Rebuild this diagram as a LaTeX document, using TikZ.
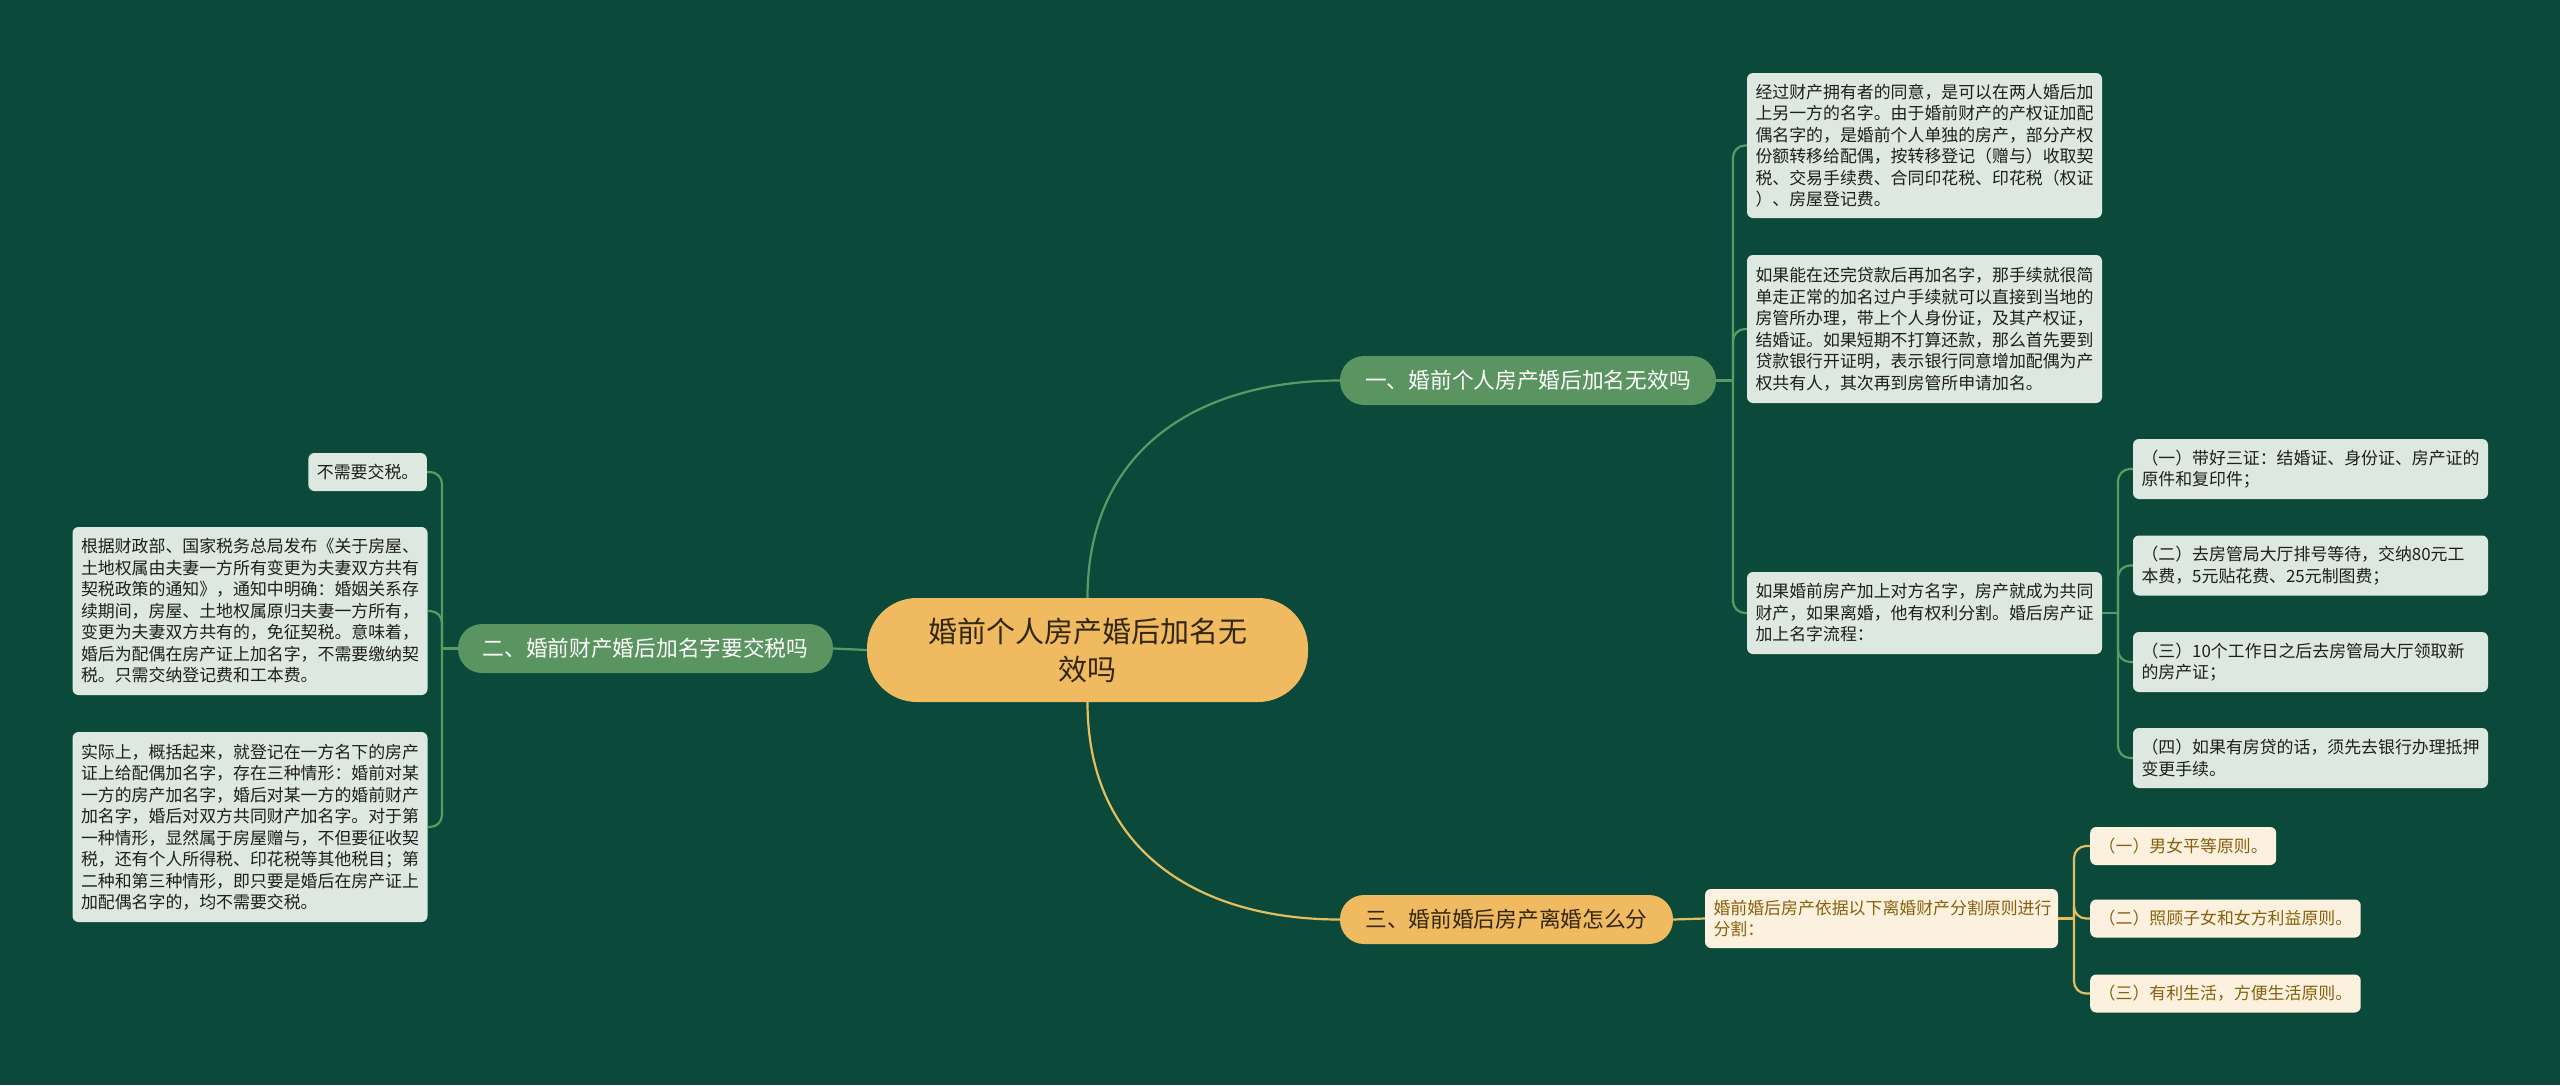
\documentclass[tikz,border=0pt]{standalone}
\usepackage{fontspec}
\setmainfont{Noto Sans CJK SC}
\definecolor{bgc}{HTML}{0B4A3A}
\definecolor{gnode}{HTML}{5A9461}
\definecolor{glinec}{HTML}{5C9A65}
\definecolor{leafg}{HTML}{DDE9E0}
\definecolor{orangec}{HTML}{F0BA61}
\definecolor{creamc}{HTML}{FCF1DE}
\definecolor{brownc}{HTML}{87600F}
\definecolor{ylinec}{HTML}{E5BE60}
\definecolor{dtext}{HTML}{1E1E1E}
\definecolor{mtext}{HTML}{33260E}
\tikzset{
  gl/.style={draw=glinec, line width=2.2pt},
  yl/.style={draw=ylinec, line width=2.2pt},
  leafbox/.style={fill=leafg, rounded corners=6pt, text=dtext,
    font=\fontsize{16.9}{21.5}\selectfont, inner xsep=8.5pt, inner ysep=0pt, align=left},
  wideleaf/.style={leafbox, text width=338pt},
  creambox/.style={fill=creamc, rounded corners=6pt, text=brownc,
    font=\fontsize{16.9}{21.5}\selectfont, inner xsep=8.5pt, inner ysep=0pt, align=left},
  mainbox/.style={fill=orangec, rounded corners=50pt, text=mtext, minimum width=441pt,
    minimum height=104pt, font=\fontsize{29}{38}\selectfont, align=center, inner sep=0pt},
  branchbox/.style={fill=gnode, text=white, rounded corners=24pt, minimum height=49pt,
    font=\fontsize{21.7}{26}\selectfont, inner sep=0pt},
  obranch/.style={fill=orangec, text=mtext, rounded corners=24pt, minimum height=49pt,
    font=\fontsize{21.7}{26}\selectfont, inner sep=0pt}
}
\begin{document}
\begin{tikzpicture}[x=1pt,y=-1pt]
\fill[bgc] (0,0) rectangle (2560,1085);
\useasboundingbox (0,0) rectangle (2560,1085);

% central
\node[mainbox] (c) at (1087.5,650) {婚前个人房产婚后加名无\\效吗};

% branches
\node[branchbox, minimum width=376pt] (b1) at (1528,380.5) {一、婚前个人房产婚后加名无效吗};
\node[branchbox, minimum width=375pt] (b2) at (645.5,648.5) {二、婚前财产婚后加名字要交税吗};
\node[obranch, minimum width=333pt] (b3) at (1506.5,919.5) {三、婚前婚后房产离婚怎么分};

% branch 1 leaves
\node[wideleaf, minimum height=145pt] (l1a) at (1924.5,145.5) {经过财产拥有者的同意，是可以在两人婚后加\\上另一方的名字。由于婚前财产的产权证加配\\偶名字的，是婚前个人单独的房产，部分产权\\份额转移给配偶，按转移登记（赠与）收取契\\税、交易手续费、合同印花税、印花税（权证\\）、房屋登记费。};
\node[wideleaf, minimum height=148pt] (l1b) at (1924.5,329) {如果能在还完贷款后再加名字，那手续就很简\\单走正常的加名过户手续就可以直接到当地的\\房管所办理，带上个人身份证，及其产权证，\\结婚证。如果短期不打算还款，那么首先要到\\贷款银行开证明，表示银行同意增加配偶为产\\权共有人，其次再到房管所申请加名。};
\node[wideleaf, minimum height=82pt] (l1c) at (1924.5,613) {如果婚前房产加上对方名字，房产就成为共同\\财产，如果离婚，他有权利分割。婚后房产证\\加上名字流程：};

\node[wideleaf, minimum height=60pt] (s1) at (2310.5,469) {（一）带好三证：结婚证、身份证、房产证的\\原件和复印件；};
\node[wideleaf, minimum height=60pt] (s2) at (2310.5,565.5) {（二）去房管局大厅排号等待，交纳80元工\\本费，5元贴花费、25元制图费；};
\node[wideleaf, minimum height=60pt] (s3) at (2310.5,662) {（三）10个工作日之后去房管局大厅领取新\\的房产证；};
\node[wideleaf, minimum height=60pt] (s4) at (2310.5,758) {（四）如果有房贷的话，须先去银行办理抵押\\变更手续。};

% branch 2 leaves
\node[leafbox, minimum height=38pt, anchor=east] (n1) at (427,472) {不需要交税。};
\node[wideleaf, minimum height=168pt] (n2) at (250,611) {根据财政部、国家税务总局发布《关于房屋、\\土地权属由夫妻一方所有变更为夫妻双方共有\\契税政策的通知》，通知中明确：婚姻关系存\\续期间，房屋、土地权属原归夫妻一方所有，\\变更为夫妻双方共有的，免征契税。意味着，\\婚后为配偶在房产证上加名字，不需要缴纳契\\税。只需交纳登记费和工本费。};
\node[wideleaf, minimum height=190pt] (n3) at (250,827) {实际上，概括起来，就登记在一方名下的房产\\证上给配偶加名字，存在三种情形：婚前对某\\一方的房产加名字，婚后对某一方的婚前财产\\加名字，婚后对双方共同财产加名字。对于第\\一种情形，显然属于房屋赠与，不但要征收契\\税，还有个人所得税、印花税等其他税目；第\\二种和第三种情形，即只要是婚后在房产证上\\加配偶名字的，均不需要交税。};

% branch 3 leaves
\node[creambox, text width=336pt, minimum height=59pt] (m3) at (1881.5,918.5) {婚前婚后房产依据以下离婚财产分割原则进行\\分割：};
\node[creambox, minimum height=38pt, anchor=west] (t1) at (2090,846) {（一）男女平等原则。};
\node[creambox, minimum height=38pt, anchor=west] (t2) at (2090,918.5) {（二）照顾子女和女方利益原则。};
\node[creambox, minimum height=38pt, anchor=west] (t3) at (2090,993.5) {（三）有利生活，方便生活原则。};

% junctions
\coordinate (j1) at (1733,380.5);
\coordinate (j2) at (2118,613);
\coordinate (j3) at (442,648.5);
\coordinate (j4) at (2074,918.5);

% connectors
\draw[gl] (c.north) .. controls +(0,-150) and +(-140,0) .. (b1.west);
\draw[yl] (c.south) .. controls +(0,150) and +(-140,0) .. (b3.west);
\draw[gl] (c.west) -- (b2.east);

\draw[gl] (b1.east) -- (j1);
\foreach \n in {l1a,l1b,l1c} \draw[gl, rounded corners=12pt] (j1) |- (\n.west);
\draw[gl] (l1c.east) -- (j2);
\foreach \n in {s1,s2,s3,s4} \draw[gl, rounded corners=12pt] (j2) |- (\n.west);

\draw[gl] (b2.west) -- (j3);
\foreach \n in {n1,n2,n3} \draw[gl, rounded corners=12pt] (j3) |- (\n.east);

\draw[yl] (b3.east) -- (m3.west);
\draw[yl] (m3.east) -- (j4);
\foreach \n in {t1,t2,t3} \draw[yl, rounded corners=12pt] (j4) |- (\n.west);
\end{tikzpicture}
\end{document}
